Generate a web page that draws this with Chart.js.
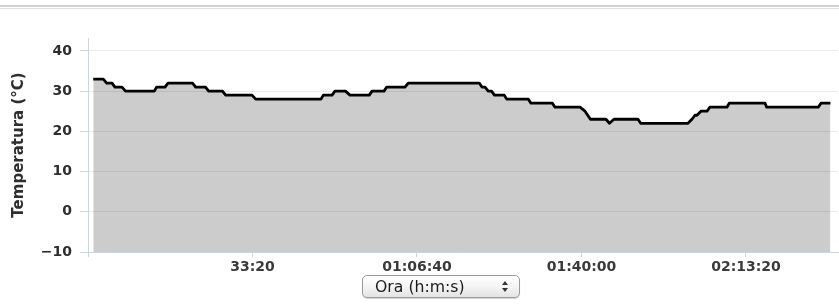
<!DOCTYPE html>
<html>
<head>
<meta charset="utf-8">
<script src="https://cdn.jsdelivr.net/npm/chart.js@4/dist/chart.umd.min.js"></script>
<style>
html,body{margin:0;padding:0;background:#fff;width:839px;height:305px;overflow:hidden}
#wrap{position:relative;width:839px;height:305px}
canvas{position:absolute;left:0;top:0}
.bar1{position:absolute;left:0;top:5px;width:839px;height:2px;background:#d0d0d0}
.bar2{position:absolute;left:0;top:8px;width:839px;height:1px;background:#e0e0e0}
#sel{position:absolute;left:362px;top:275px;width:156px;height:21px;border:1px solid #9a9a9a;border-radius:5px;
  background:linear-gradient(#ffffff,#f4f4f4 50%,#e4e4e4);box-shadow:0 1px 1px rgba(0,0,0,0.18);
  font-family:'DejaVu Sans',sans-serif;font-size:15.7px;color:#1a1a1a}
#sel .t{position:absolute;left:12px;top:0;line-height:21px;white-space:nowrap}
#sel .up{position:absolute;left:139px;top:5px;width:0;height:0;border-left:3.5px solid transparent;border-right:3.5px solid transparent;border-bottom:4px solid #333}
#sel .dn{position:absolute;left:139px;top:12px;width:0;height:0;border-left:3.5px solid transparent;border-right:3.5px solid transparent;border-top:4px solid #333}
</style>
</head>
<body>
<div id="wrap">
  <div class="bar1"></div>
  <div class="bar2"></div>
  <canvas id="c" width="839" height="305"></canvas>
  <div id="sel"><span class="t" id="selText"></span><span class="up"></span><span class="dn"></span></div>
</div>
<script>
// Time in seconds from start (breakpoints of the recorded curve)
const timeSeconds = [64,186,227,292,328,413,456,806,835,936,973,1271,1309,1429,1467,1635,1674,1994,2039,2833,2861,2967,3003,3131,3185,3420,3453,3599,3632,3854,3894,4757,4790,4827,4867,4906,4942,5061,5091,5353,5386,5647,5678,5982,6043,6109,6298,6340,6395,6687,6720,7295,7343,7380,7404,7453,7526,7562,7769,7797,8231,8252,8879,8912,9027];
// Temperature in °C
const temperatures = [33,33,32,32,31,31,30,30,31,31,32,32,31,31,30,30,29,29,28,28,29,29,30,30,29,29,30,30,31,31,32,32,31,31,30,30,29,29,28,28,27,27,26,26,25,23,23,22,23,23,22,22,23,24,24,25,25,26,26,27,27,26,26,27,27];
const yTickValues = [-10,0,10,20,30,40];
const xTickValues = [0,2000,4000,6000,8000];
const yAxisTitle = 'Temperatura (°C)';
const xAxisSelectLabel = 'Ora (h:m:s)';

document.getElementById('selText').textContent = xAxisSelectLabel;

function fmtTime(s){
  const p = n => String(n).padStart(2,'0');
  const h = Math.floor(s/3600), m = Math.floor((s%3600)/60), sec = Math.round(s%60);
  return h > 0 ? p(h)+':'+p(m)+':'+p(sec) : p(m)+':'+p(sec);
}

const axisBlue = '#c6d6e6';
const tickFont = {family:'DejaVu Sans', size:14, weight:'bold'};

new Chart(document.getElementById('c'), {
  type: 'line',
  data: {
    datasets: [{
      data: timeSeconds.map((t,i) => ({x:t, y:temperatures[i]})),
      borderColor: '#000',
      borderWidth: 2.8,
      borderJoinStyle: 'round',
      backgroundColor: 'rgba(0,0,0,0.2)',
      fill: 'start',
      pointRadius: 0,
      tension: 0
    }]
  },
  options: {
    responsive: false,
    animation: false,
    devicePixelRatio: 1,
    layout: {padding: {top:38, right:1, left:0, bottom:0}},
    plugins: {legend:{display:false}, tooltip:{enabled:false}},
    scales: {
      x: {
        type: 'linear',
        min: 0,
        max: 9119,
        afterBuildTicks: s => { s.ticks = xTickValues.map(v => ({value:v})); },
        afterFit: s => { s.height = 53; },
        grid: {drawOnChartArea:false, drawTicks:true, tickLength:5, tickColor:axisBlue},
        border: {display:true, color:axisBlue, width:1},
        ticks: {
          autoSkip:false, maxRotation:0, padding:2, color:'#3a3a3a', font:tickFont,
          callback: v => v === 0 ? '' : fmtTime(v)
        }
      },
      y: {
        min: -10,
        max: 43.2,
        afterBuildTicks: s => { s.ticks = yTickValues.map(v => ({value:v})); },
        afterFit: s => { s.width = 88; },
        grid: {color:'#ebebeb', lineWidth:1, tickColor:axisBlue, tickLength:8},
        border: {display:true, color:axisBlue, width:1},
        ticks: {
          padding:8, color:'#2e2e2e', font:tickFont,
          callback: v => v < 0 ? '\u2212' + Math.abs(v) : String(v)
        },
        title: {
          display:true, text:yAxisTitle, color:'#2e2e2e',
          font:{family:'DejaVu Sans', size:15, weight:'bold'},
          padding:{top:10, bottom:0}
        }
      }
    }
  }
});
</script>
</body>
</html>
